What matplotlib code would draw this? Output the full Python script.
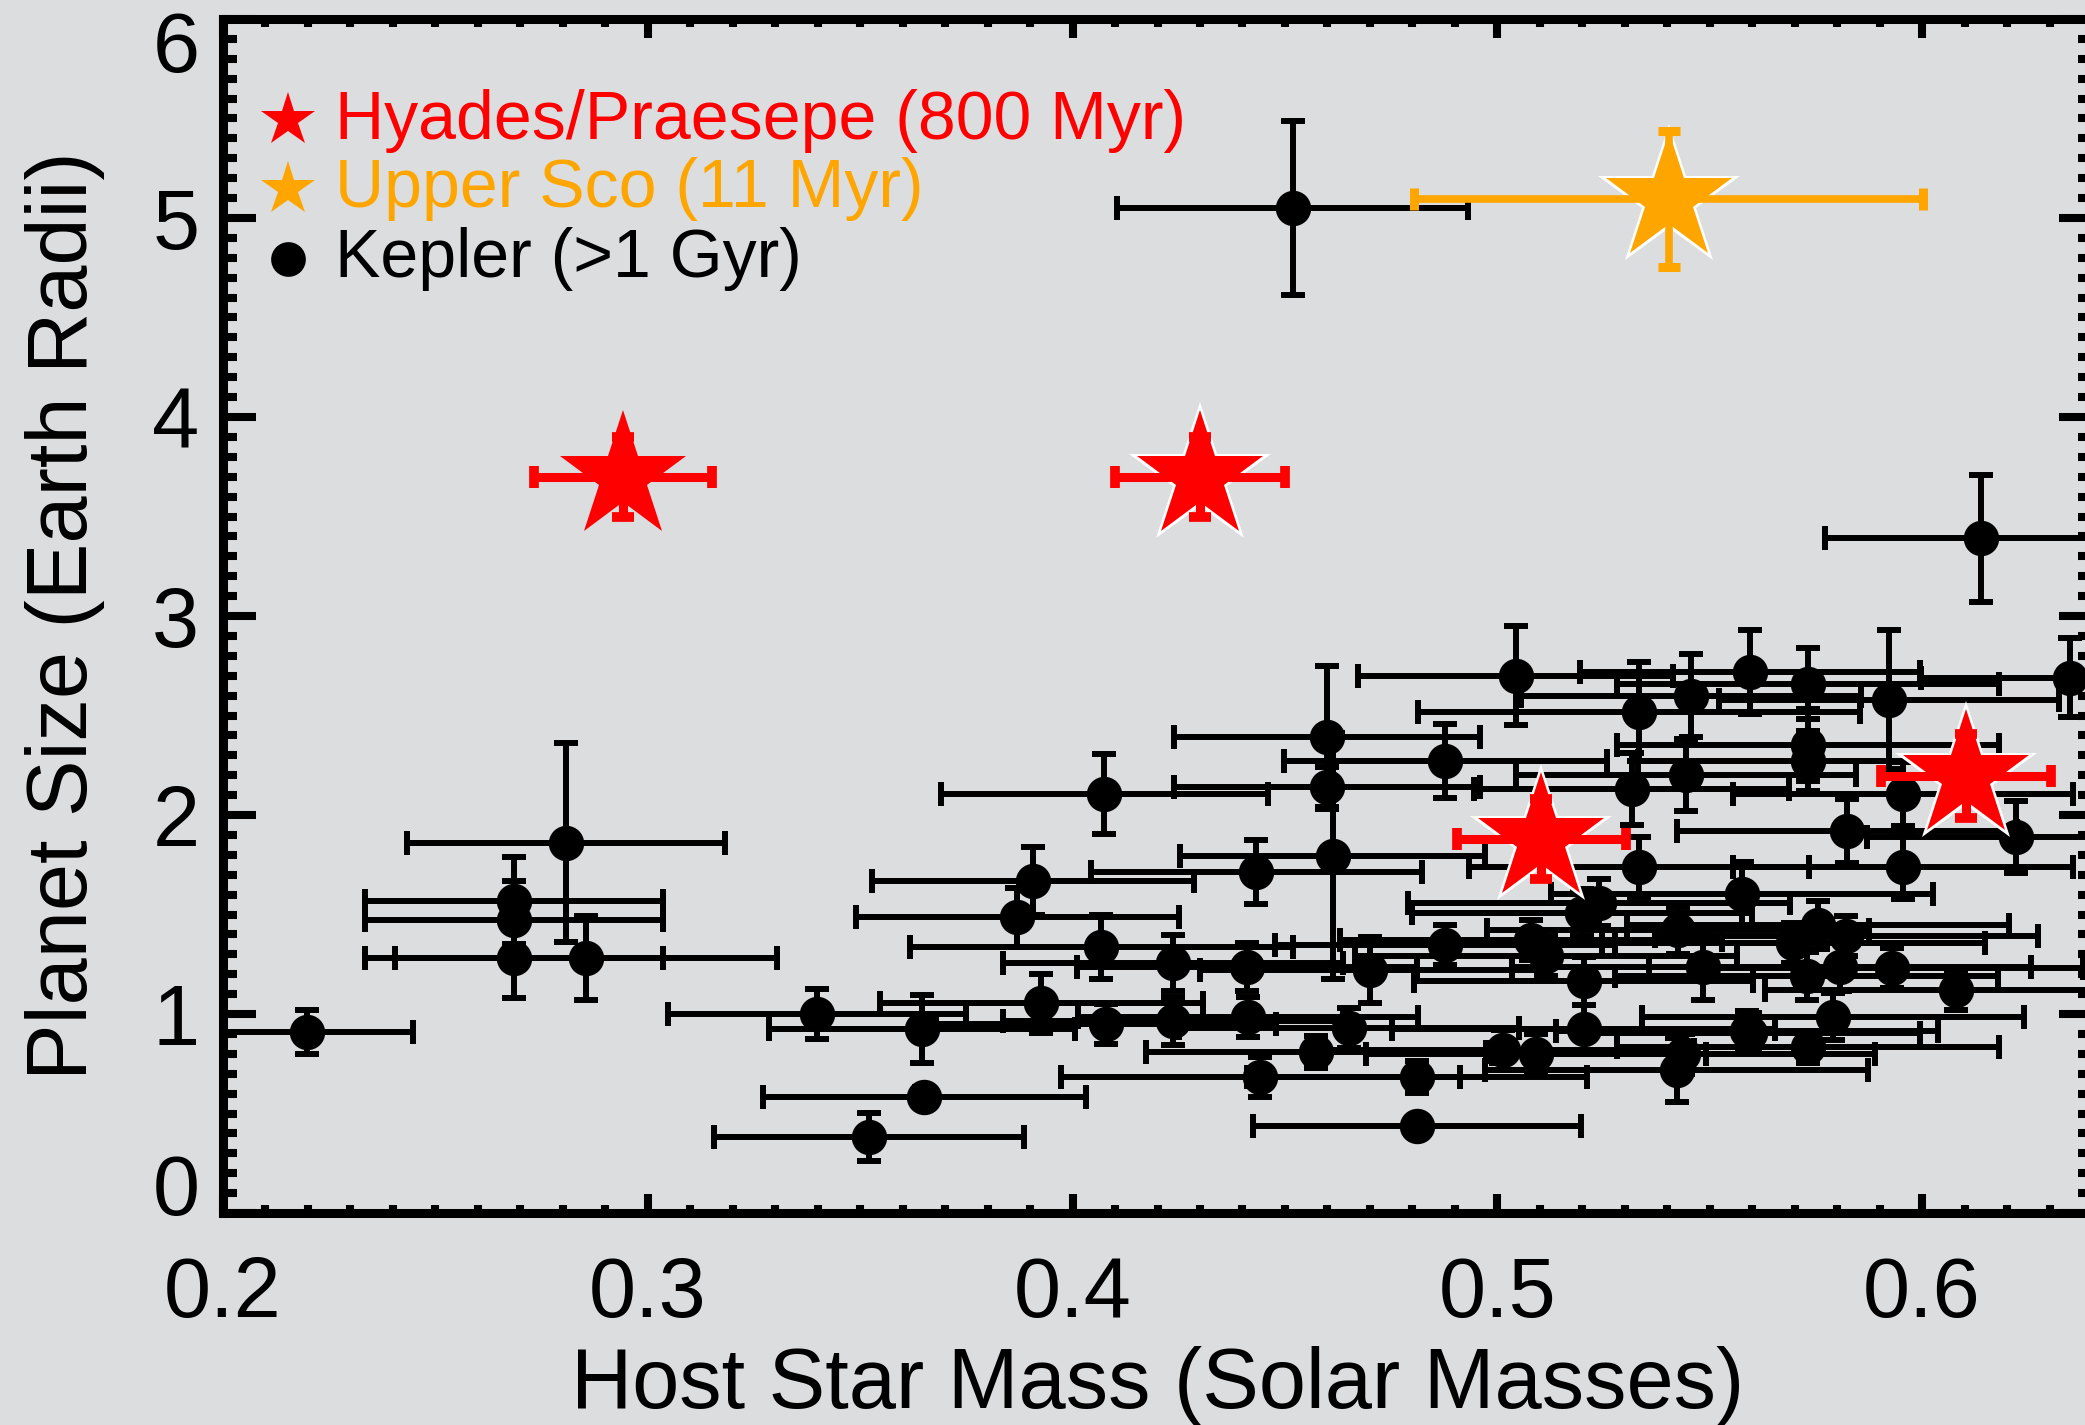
import matplotlib
matplotlib.use('Agg')
import matplotlib.pyplot as plt
import matplotlib.transforms as mtransforms
from matplotlib.ticker import MultipleLocator
import numpy as np

# Kepler planets around field M dwarfs (>1 Gyr)
kepler_mass = [0.2197, 0.2807, 0.2685, 0.2685, 0.2685, 0.2854, 0.3398, 0.3646, 0.3651, 0.3520,
               0.4075, 0.3907, 0.3870, 0.4068, 0.4237, 0.4410, 0.4433, 0.4518, 0.4600, 0.4600,
               0.4612, 0.4878, 0.5043, 0.4700, 0.4877, 0.3926, 0.4079, 0.4236, 0.4414, 0.4442,
               0.4574, 0.4650, 0.4810, 0.4810, 0.5014, 0.5092, 0.5203, 0.5203, 0.5114, 0.5080,
               0.5200, 0.5240, 0.5334, 0.5456, 0.5594, 0.5731, 0.5923, 0.5731, 0.5731, 0.5444,
               0.5316, 0.5955, 0.5823, 0.6220, 0.5955, 0.5334, 0.5576, 0.6138, 0.6348, 0.5426,
               0.5755, 0.5822, 0.5697, 0.5485, 0.5928, 0.5807, 0.5728, 0.6081, 0.5790, 0.5595,
               0.5732, 0.5438, 0.5422, 0.5588]
kepler_mass_err = [0.025, 0.0375, 0.035, 0.035, 0.035, 0.045, 0.035, 0.036, 0.038, 0.0365,
                   0.0385, 0.038, 0.038, 0.045, 0.040, 0.040, 0.039, 0.0413, 0.036, 0.036,
                   0.036, 0.038, 0.037, 0.040, 0.040, 0.038, 0.040, 0.040, 0.040, 0.047,
                   0.040, 0.040, 0.040, 0.0386, 0.045, 0.040, 0.045, 0.040, 0.045, 0.045,
                   0.040, 0.045, 0.052, 0.040, 0.040, 0.045, 0.040, 0.045, 0.040, 0.040,
                   0.037, 0.040, 0.040, 0.035, 0.040, 0.040, 0.045, 0.0366, 0.035, 0.045,
                   0.045, 0.045, 0.045, 0.045, 0.045, 0.045, 0.045, 0.045, 0.045, 0.040,
                   0.045, 0.045, 0.045, 0.045]
kepler_radius = [0.91, 1.86, 1.57, 1.47, 1.28, 1.28, 1.00, 0.925, 0.583, 0.383,
                 2.106, 1.67, 1.485, 1.336, 1.255, 1.238, 1.715, 5.05, 2.39, 2.14,
                 1.794, 2.27, 2.70, 1.221, 1.347, 1.053, 0.948, 0.965, 0.983, 0.683,
                 0.807, 0.93, 0.685, 0.437, 0.82, 0.80, 0.925, 1.164, 1.29, 1.37,
                 1.51, 1.56, 2.52, 2.60, 2.72, 2.66, 2.58, 2.353, 2.27, 2.20,
                 2.13, 2.107, 1.92, 1.89, 1.737, 1.737, 1.604, 3.39, 2.69, 1.42,
                 1.447, 1.39, 1.355, 1.238, 1.23, 1.238, 1.19, 1.12, 0.987, 0.903,
                 0.836, 0.80, 0.719, 0.915]
kepler_radius_err = [0.11, 0.50, 0.22, 0.20, 0.20, 0.21, 0.125, 0.17, 0.05, 0.12,
                     0.20, 0.17, 0.15, 0.16, 0.14, 0.12, 0.16, 0.435, 0.36, 0.10,
                     0.62, 0.185, 0.25, 0.167, 0.10, 0.15, 0.10, 0.12, 0.10, 0.10,
                     0.08, 0.10, 0.08, 0.03, 0.10, 0.10, 0.12, 0.12, 0.10, 0.10,
                     0.12, 0.12, 0.25, 0.21, 0.21, 0.18, 0.35, 0.18, 0.15, 0.18,
                     0.18, 0.16, 0.16, 0.18, 0.16, 0.15, 0.16, 0.32, 0.20, 0.12,
                     0.12, 0.10, 0.10, 0.17, 0.10, 0.12, 0.12, 0.10, 0.12, 0.10,
                     0.08, 0.10, 0.16, 0.10]

# Hyades / Praesepe planets (800 Myr)
hyades_mass = [0.2942, 0.4301, 0.5104, 0.6104]
hyades_mass_err = [0.021, 0.020, 0.020, 0.020]
hyades_radius = [3.70, 3.70, 1.88, 2.195]
hyades_radius_err = [0.20, 0.20, 0.20, 0.21]
hyades_halo = [False, True, True, True]

# Upper Sco planet (11 Myr)
usco_mass = [0.5403]
usco_mass_err = [0.060]
usco_radius = [5.095]
usco_radius_err = [0.34]

bg = '#dcdddf'
red = '#ff0000'
orange = '#ffa500'

plt.rcParams['font.family'] = ['Liberation Sans', 'DejaVu Sans']

W, H = 2085, 1425
fig = plt.figure(figsize=(W / 100, H / 100), dpi=100, facecolor=bg)
ax = fig.add_axes([223 / W, 1 - 1213 / H, 1869 / W, 1194 / H], facecolor=bg)

# Kepler points
ax.errorbar(kepler_mass, kepler_radius, xerr=kepler_mass_err, yerr=kepler_radius_err,
            fmt='o', color='black', ms=24.5, elinewidth=4.3, capsize=8.3, capthick=4.3,
            zorder=2)

# young cluster planets: white halo star, coloured star, error bars on top
for x, y, halo in zip(hyades_mass, hyades_radius, hyades_halo):
    if halo:
        ax.plot(x, y, marker='*', ms=108, color='white', mew=0, zorder=3)
    ax.plot(x, y, marker='*', ms=96, color=red, mew=0, zorder=4)
ax.errorbar(hyades_mass, hyades_radius, xerr=hyades_mass_err, yerr=hyades_radius_err,
            fmt='none', ecolor=red, elinewidth=6.5, capsize=8, capthick=7, zorder=5)

ax.plot(usco_mass, usco_radius, marker='*', ms=108, color='white', mew=0, ls='none', zorder=3)
ax.plot(usco_mass, usco_radius, marker='*', ms=96, color=orange, mew=0, ls='none', zorder=4)
ax.errorbar(usco_mass, usco_radius, xerr=usco_mass_err, yerr=usco_radius_err,
            fmt='none', ecolor=orange, elinewidth=5.5, capsize=8, capthick=6.5, zorder=5)

ax.set_xlim(0.2, 0.64)
ax.set_ylim(0, 6)
ax.xaxis.set_major_locator(MultipleLocator(0.1))
ax.xaxis.set_minor_locator(MultipleLocator(0.01))
ax.yaxis.set_major_locator(MultipleLocator(1))
ax.yaxis.set_minor_locator(MultipleLocator(0.1))
ax.set_xticks([0.2, 0.3, 0.4, 0.5, 0.6])
ax.set_xticklabels(['0.2', '0.3', '0.4', '0.5', '0.6'])

for s in ax.spines.values():
    s.set_linewidth(6.5)
ax.tick_params(axis='x', which='major', direction='in', length=14, width=5.8,
               top=True, bottom=True, labelsize=61, pad=30)
ax.tick_params(axis='x', which='minor', direction='in', length=6, width=5.8,
               top=True, bottom=True)
ax.tick_params(axis='y', which='major', direction='in', length=24, width=5.8,
               left=True, right=True, labelsize=61, pad=17)
ax.tick_params(axis='y', which='minor', direction='in', length=10, width=5.8,
               left=True, right=True)

ax.set_xlabel('Host Star Mass (Solar Masses)', fontsize=61, labelpad=8)
ax.set_ylabel('Planet Size (Earth Radii)', fontsize=61, labelpad=34)

# pull the end y labels inside, as in the original
fig.canvas.draw()
for lab in ax.get_yticklabels():
    if lab.get_text() == '0':
        lab.set_transform(lab.get_transform() +
                          mtransforms.ScaledTranslation(0, 29 / 100, fig.dpi_scale_trans))
    if lab.get_text() == '6':
        lab.set_transform(lab.get_transform() +
                          mtransforms.ScaledTranslation(0, -22 / 100, fig.dpi_scale_trans))

# hand-made legend
leg_rows = [('Hyades/Praesepe (800 Myr)', red, '*', 41, 139, 120),
            ('Upper Sco (11 Myr)', orange, '*', 41, 207, 189),
            ('Kepler (>1 Gyr)', 'black', 'o', 25, 277, 259)]
for label, col, mk, size, base_y, mk_y in leg_rows:
    fig.text(335 / W, 1 - base_y / H, label, color=col, fontsize=49,
             ha='left', va='baseline')
    fig.lines.append(plt.Line2D([288 / W], [1 - mk_y / H], marker=mk, ms=size,
                                color=col, mew=0, transform=fig.transFigure))

fig.savefig('out.png', dpi=100, facecolor=bg)
